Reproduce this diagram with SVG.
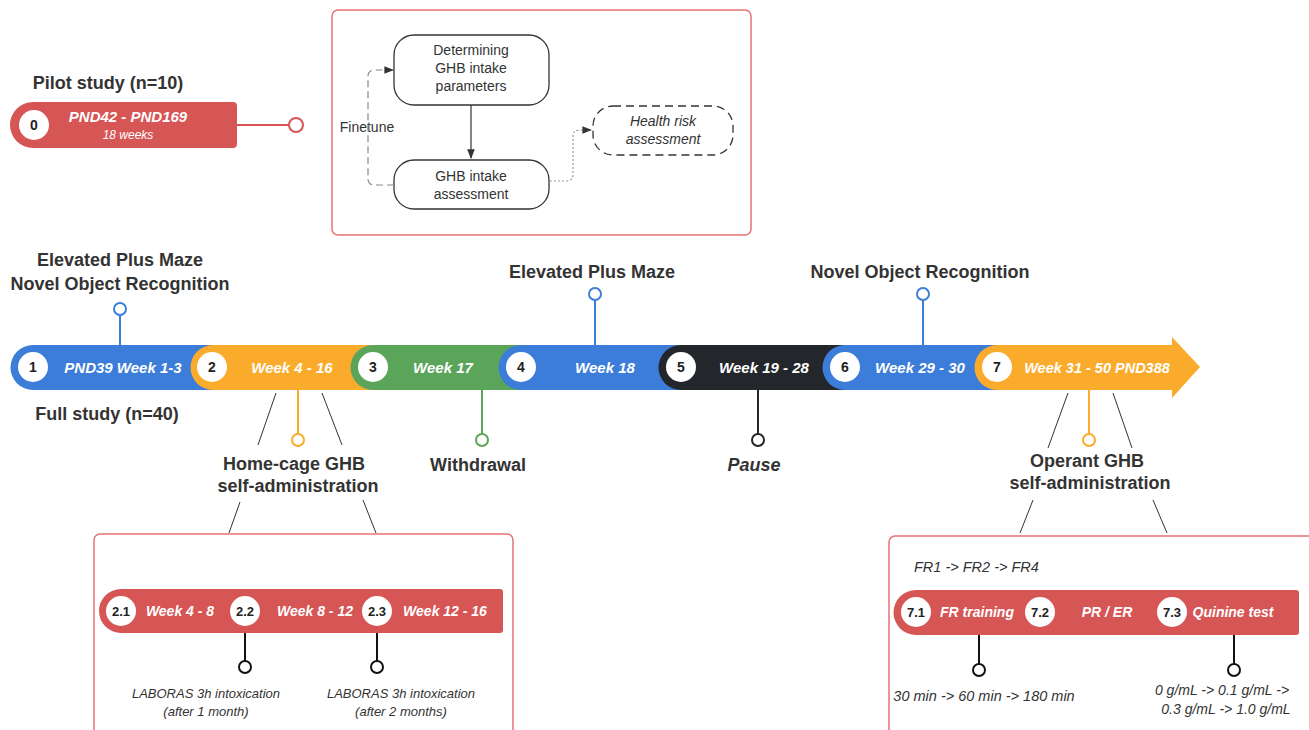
<svg xmlns="http://www.w3.org/2000/svg" width="1309" height="730" viewBox="0 0 1309 730">
<defs>
<style>
.t{font-family:"Liberation Sans",Arial,sans-serif;}
.h{font-family:"Liberation Sans",Arial,sans-serif;font-weight:bold;font-size:18px;fill:#333;text-anchor:middle;}
.w{font-family:"Liberation Sans",Arial,sans-serif;font-weight:bold;font-style:italic;font-size:15px;fill:#fff;text-anchor:middle;}
.n{font-family:"Liberation Sans",Arial,sans-serif;font-weight:bold;font-size:14px;fill:#222;text-anchor:middle;}
.s{font-family:"Liberation Sans",Arial,sans-serif;font-style:italic;font-size:14px;fill:#333;text-anchor:middle;}
.b{font-family:"Liberation Sans",Arial,sans-serif;font-size:14px;fill:#333;text-anchor:middle;}
.dot{fill:#fff;}
.pin{fill:#fff;stroke-width:2;}
.thin{stroke:#333;stroke-width:1;fill:none;}
.box{fill:#fff;stroke:#e57373;stroke-width:1.5;}
</style>
<marker id="ah" viewBox="0 0 10 10" refX="9" refY="5" markerWidth="8" markerHeight="8" orient="auto"><path d="M0,1 L10,5 L0,9 z" fill="#333"/></marker>
</defs>
<rect width="1309" height="730" fill="#fff"/>

<!-- Pilot -->
<g id="pilot">
<text class="h" x="108" y="89">Pilot study (n=10)</text>
<path d="M33,102 H233 a4,4 0 0 1 4,4 V144 a4,4 0 0 1 -4,4 H33 a23,23 0 0 1 0,-46 z" fill="#d65555"/>
<circle class="dot" cx="34" cy="125" r="15"/>
<text class="n" x="34" y="130">0</text>
<text class="w" x="128" y="122">PND42 - PND169</text>
<text class="s" x="128" y="139" style="fill:#fff;font-size:12px">18 weeks</text>
<line x1="237" y1="125" x2="289" y2="125" stroke="#d65555" stroke-width="2"/>
<circle class="pin" cx="296" cy="125" r="7" stroke="#d65555"/>
</g>

<!-- Top box -->
<g id="pilot-box">
<rect class="box" x="332" y="10" width="419" height="225" rx="6"/>
</g>
<g id="determining">
<rect x="394" y="35" width="155" height="70" rx="20" fill="#fff" stroke="#333" stroke-width="1.3"/>
<text class="b" x="471" y="55">Determining</text>
<text class="b" x="471" y="73">GHB intake</text>
<text class="b" x="471" y="91">parameters</text>
</g>
<g id="assessment">
<rect x="394" y="160" width="155" height="49" rx="20" fill="#fff" stroke="#333" stroke-width="1.3"/>
<text class="b" x="471" y="181">GHB intake</text>
<text class="b" x="471" y="199">assessment</text>
</g>
<g id="health">
<rect x="593" y="106" width="140" height="49" rx="20" fill="#fff" stroke="#333" stroke-width="1.3" stroke-dasharray="8,5"/>
<text class="s" x="663" y="126">Health risk</text>
<text class="s" x="663" y="144">assessment</text>
</g>
<text class="b" x="367" y="132">Finetune</text>

<!-- Timeline -->
<g id="timeline">
<path d="M33,345 H240 V390 H33 a22.5,22.5 0 0 1 0,-45 z" fill="#3b7dd8"/>
<path d="M213,345 H390 V390 H213 a22.5,22.5 0 0 1 0,-45 z" fill="#fbab2b"/>
<path d="M373,345 H540 V390 H373 a22.5,22.5 0 0 1 0,-45 z" fill="#5aa55a"/>
<path d="M521,345 H700 V390 H521 a22.5,22.5 0 0 1 0,-45 z" fill="#3b7dd8"/>
<path d="M681,345 H860 V390 H681 a22.5,22.5 0 0 1 0,-45 z" fill="#23262b"/>
<path d="M845,345 H1010 V390 H845 a22.5,22.5 0 0 1 0,-45 z" fill="#3b7dd8"/>
<path d="M997,345 H1172 V337 L1200,367 L1172,398 V390 H997 a22.5,22.5 0 0 1 0,-45 z" fill="#fbab2b"/>
</g>
<g id="n1"><circle class="dot" cx="33" cy="367" r="15"/><text class="n" x="33" y="372">1</text><text class="w" x="123" y="373">PND39 Week 1-3</text></g>
<g id="n2"><circle class="dot" cx="212" cy="367" r="15"/><text class="n" x="212" y="372">2</text><text class="w" x="292" y="373">Week 4 - 16</text></g>
<g id="n3"><circle class="dot" cx="373" cy="367" r="15"/><text class="n" x="373" y="372">3</text><text class="w" x="443" y="373">Week 17</text></g>
<g id="n4"><circle class="dot" cx="521" cy="367" r="15"/><text class="n" x="521" y="372">4</text><text class="w" x="605" y="373">Week 18</text></g>
<g id="n5"><circle class="dot" cx="681" cy="367" r="15"/><text class="n" x="681" y="372">5</text><text class="w" x="764" y="373">Week 19 - 28</text></g>
<g id="n6"><circle class="dot" cx="845" cy="367" r="15"/><text class="n" x="845" y="372">6</text><text class="w" x="920" y="373">Week 29 - 30</text></g>
<g id="n7"><circle class="dot" cx="997" cy="367" r="15"/><text class="n" x="997" y="372">7</text><text class="w" x="1097" y="373" style="font-size:14.5px">Week 31 - 50 PND388</text></g>

<!-- Labels -->
<g id="labels">
<text class="h" x="120" y="266">Elevated Plus Maze</text>
<text class="h" x="120" y="290">Novel Object Recognition</text>
<text class="h" x="592" y="278">Elevated Plus Maze</text>
<text class="h" x="920" y="278">Novel Object Recognition</text>
<text class="h" x="107" y="420">Full study (n=40)</text>
<text class="h" x="294" y="470">Home-cage GHB</text>
<text class="h" x="298" y="492">self-administration</text>
<text class="h" x="478" y="471">Withdrawal</text>
<text class="h" x="754" y="471" style="font-style:italic">Pause</text>
<text class="h" x="1087" y="467">Operant GHB</text>
<text class="h" x="1090" y="489">self-administration</text>
</g>

<!-- Connectors -->
<g id="connectors">
<line x1="471" y1="105" x2="471" y2="158" stroke="#333" stroke-width="1.2" marker-end="url(#ah)"/>
<path d="M394,185 H374 a6,6 0 0 1 -6,-6 V76 a6,6 0 0 1 6,-6 H393" fill="none" stroke="#888" stroke-width="1.2" stroke-dasharray="7,4" marker-end="url(#ah)"/>
<path d="M550,181 H566 Q573,181 573,174 V136 Q573,130 580,130 H591" fill="none" stroke="#999" stroke-width="1.2" stroke-dasharray="2,2" marker-end="url(#ah)"/>

<line x1="120" y1="315" x2="120" y2="345" stroke="#3b7dd8" stroke-width="2"/>
<circle class="pin" cx="120" cy="309" r="6" stroke="#3b7dd8"/>
<line x1="595" y1="300" x2="595" y2="345" stroke="#3b7dd8" stroke-width="2"/>
<circle class="pin" cx="595" cy="294" r="6" stroke="#3b7dd8"/>
<line x1="923" y1="300" x2="923" y2="345" stroke="#3b7dd8" stroke-width="2"/>
<circle class="pin" cx="923" cy="294" r="6" stroke="#3b7dd8"/>

<line x1="298" y1="390" x2="298" y2="434" stroke="#fbab2b" stroke-width="2"/>
<circle class="pin" cx="298" cy="440" r="6" stroke="#fbab2b"/>
<line class="thin" x1="276" y1="393" x2="258" y2="445"/>
<line class="thin" x1="322" y1="393" x2="342" y2="445"/>
<line class="thin" x1="240" y1="502" x2="229" y2="533"/>
<line class="thin" x1="363" y1="500" x2="376" y2="533"/>

<line x1="482" y1="390" x2="482" y2="434" stroke="#5aa55a" stroke-width="2"/>
<circle class="pin" cx="482" cy="440" r="6" stroke="#5aa55a"/>
<line x1="758" y1="390" x2="758" y2="434" stroke="#23262b" stroke-width="2"/>
<circle class="pin" cx="758" cy="440" r="6" stroke="#23262b"/>

<line x1="1089" y1="390" x2="1089" y2="434" stroke="#fbab2b" stroke-width="2"/>
<circle class="pin" cx="1089" cy="440" r="6" stroke="#fbab2b"/>
<line class="thin" x1="1068" y1="393" x2="1048" y2="448"/>
<line class="thin" x1="1113" y1="393" x2="1132" y2="448"/>
<line class="thin" x1="1033" y1="500" x2="1020" y2="533"/>
<line class="thin" x1="1153" y1="500" x2="1167" y2="533"/>
</g>

<!-- Bottom-left box -->
<g id="homecage-box">
<rect class="box" x="94" y="534" width="419" height="210" rx="6"/>
<path d="M121,589 H500 a3,3 0 0 1 3,3 V630 a3,3 0 0 1 -3,3 H121 a22,22 0 0 1 0,-44 z" fill="#d65555"/>
</g>
<g id="n21"><circle class="dot" cx="121" cy="611" r="15"/><text class="n" x="121" y="616" style="font-size:13px">2.1</text><text class="w" x="180" y="616" style="font-size:14px">Week 4 - 8</text></g>
<g id="n22"><circle class="dot" cx="245" cy="611" r="15"/><text class="n" x="245" y="616" style="font-size:13px">2.2</text><text class="w" x="315" y="616" style="font-size:14px">Week 8 - 12</text>
<line x1="245" y1="633" x2="245" y2="661" stroke="#111" stroke-width="2"/><circle class="pin" cx="245" cy="667" r="6" stroke="#111"/>
<text class="s" x="206" y="698" style="font-size:13px">LABORAS 3h intoxication</text><text class="s" x="206" y="716" style="font-size:13px">(after 1 month)</text></g>
<g id="n23"><circle class="dot" cx="377" cy="611" r="15"/><text class="n" x="377" y="616" style="font-size:13px">2.3</text><text class="w" x="445" y="616" style="font-size:14px">Week 12 - 16</text>
<line x1="377" y1="633" x2="377" y2="661" stroke="#111" stroke-width="2"/><circle class="pin" cx="377" cy="667" r="6" stroke="#111"/>
<text class="s" x="401" y="698" style="font-size:13px">LABORAS 3h intoxication</text><text class="s" x="401" y="716" style="font-size:13px">(after 2 months)</text></g>

<!-- Bottom-right box -->
<g id="operant-box">
<rect class="box" x="889" y="536" width="430" height="210" rx="6"/>
<text class="s" x="914" y="572" style="text-anchor:start;font-size:14.5px">FR1 -&gt; FR2 -&gt; FR4</text>
<path d="M916,590 H1296 a3,3 0 0 1 3,3 V632 a3,3 0 0 1 -3,3 H916 a22.5,22.5 0 0 1 0,-45 z" fill="#d65555"/>
</g>
<g id="n71"><circle class="dot" cx="916" cy="612" r="15"/><text class="n" x="916" y="617" style="font-size:13px">7.1</text><text class="w" x="977" y="617" style="font-size:14px">FR training</text>
<line x1="979" y1="635" x2="979" y2="664" stroke="#111" stroke-width="2"/><circle class="pin" cx="979" cy="670" r="6" stroke="#111"/>
<text class="s" x="984" y="701" style="font-size:14.5px">30 min -&gt; 60 min -&gt; 180 min</text></g>
<g id="n72"><circle class="dot" cx="1040" cy="612" r="15"/><text class="n" x="1040" y="617" style="font-size:13px">7.2</text><text class="w" x="1107" y="617" style="font-size:14px">PR / ER</text></g>
<g id="n73"><circle class="dot" cx="1172" cy="612" r="15"/><text class="n" x="1172" y="617" style="font-size:13px">7.3</text><text class="w" x="1233" y="617" style="font-size:14px">Quinine test</text>
<line x1="1234" y1="635" x2="1234" y2="664" stroke="#111" stroke-width="2"/><circle class="pin" cx="1234" cy="670" r="6" stroke="#111"/>
<text class="s" x="1222" y="695">0 g/mL -&gt; 0.1 g/mL -&gt;</text><text class="s" x="1226" y="714">0.3 g/mL -&gt; 1.0 g/mL</text></g>
</svg>
